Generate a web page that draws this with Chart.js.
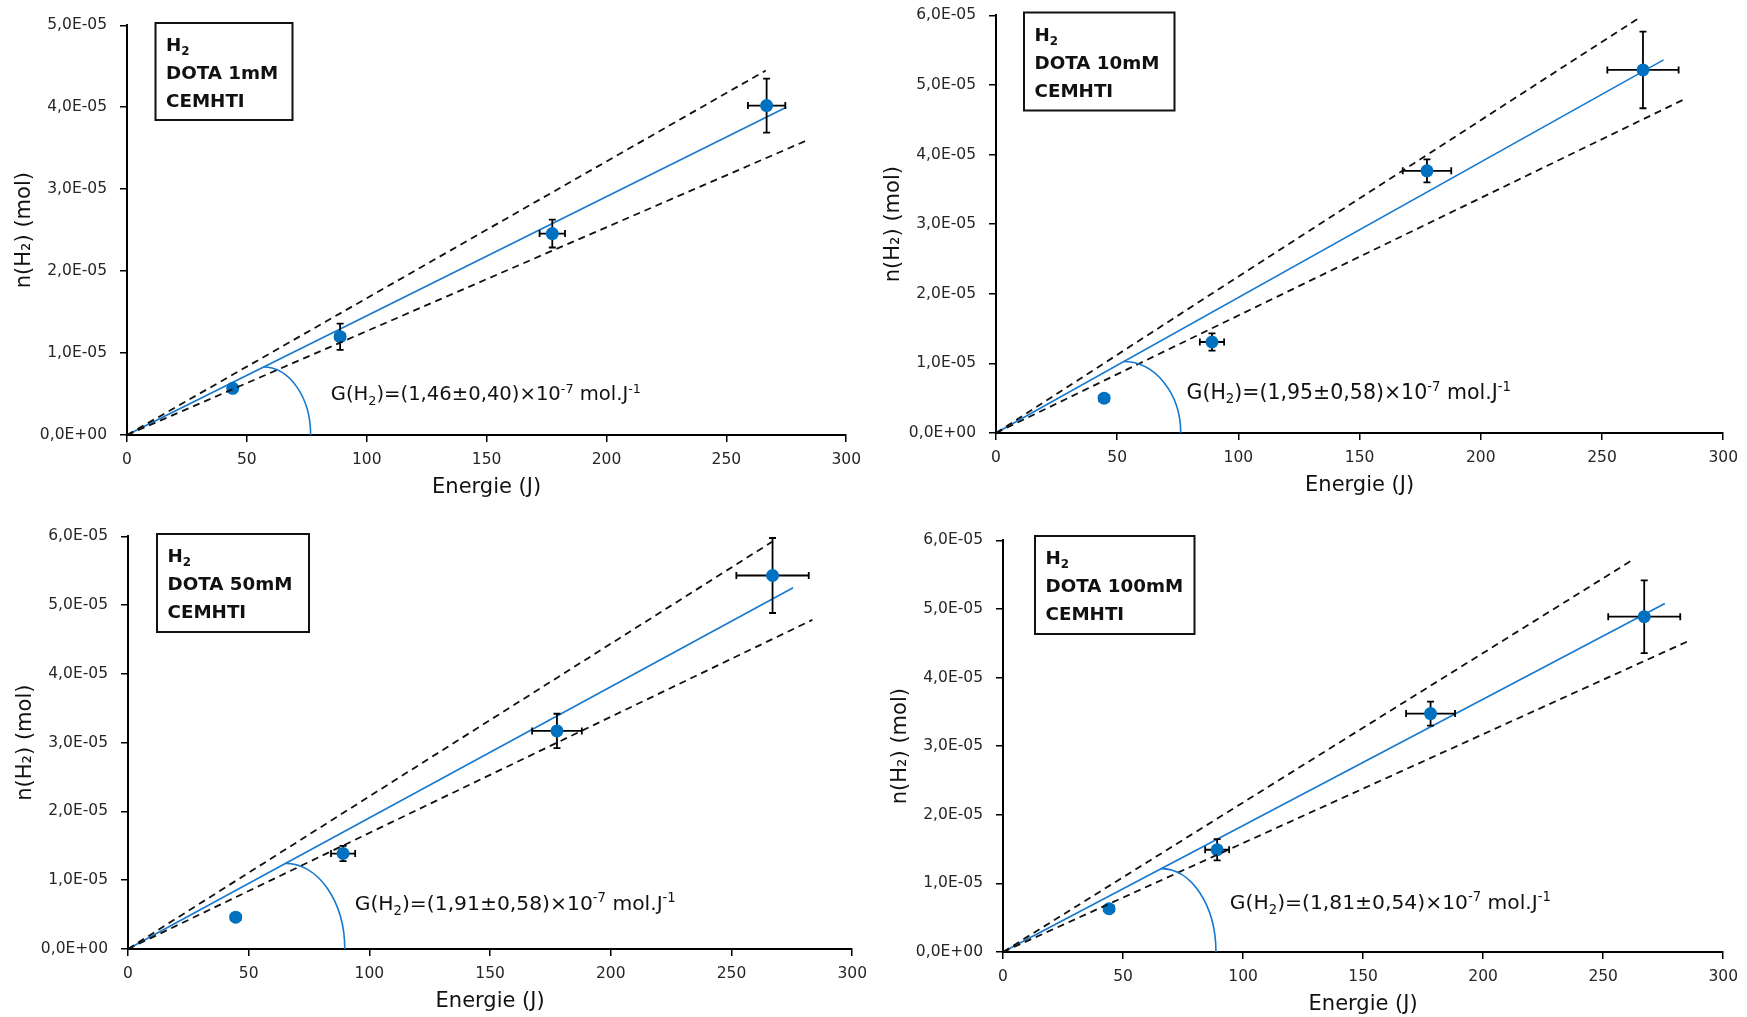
<!DOCTYPE html>
<html><head><meta charset="utf-8">
<script src="https://cdn.jsdelivr.net/npm/chart.js@4.4.1/dist/chart.umd.min.js"></script>
<style>
html,body{margin:0;padding:0;background:#fff;overflow:hidden;width:1747px;height:1017px;position:relative}
canvas{position:absolute}
</style></head><body>
<canvas id="c1"></canvas><canvas id="c2"></canvas><canvas id="c3"></canvas><canvas id="c4"></canvas>
<script>
// ---------- data ----------
const xTickValues = [0, 50, 100, 150, 200, 250, 300];
const xTickLabels = ['0', '50', '100', '150', '200', '250', '300'];
const yTickValues5 = [0, 1e-5, 2e-5, 3e-5, 4e-5, 5e-5];
const yTickLabels5 = ['0,0E+00', '1,0E-05', '2,0E-05', '3,0E-05', '4,0E-05', '5,0E-05'];
const yTickValues6 = [0, 1e-5, 2e-5, 3e-5, 4e-5, 5e-5, 6e-5];
const yTickLabels6 = ['0,0E+00', '1,0E-05', '2,0E-05', '3,0E-05', '4,0E-05', '5,0E-05', '6,0E-05'];

// Panel 1 : DOTA 1mM
const energy1 = [44.1, 88.9, 177.4, 266.8];
const nH2_1   = [5.7e-6, 1.20e-5, 2.458e-5, 4.02e-5];
const errX1   = [1.0, 2.0, 5.3, 7.8];
const errY1   = [0, 1.6e-6, 1.7e-6, 3.3e-6];
const fitLine1   = [[0, 0], [275.0, 4.00e-5]];
const upperLine1 = [[0, 0], [266.4, 4.447e-5]];
const lowerLine1 = [[0, 0], [283.8, 3.598e-5]];
const arc1 = [56.9, 8.3e-6, 76.6];
const gValue1 = '1,46±0,40';
const label1 = 'DOTA 1mM';

// Panel 2 : DOTA 10mM
const energy2 = [44.6, 89.1, 177.8, 266.9];
const nH2_2   = [5.0e-6, 1.307e-5, 3.766e-5, 5.215e-5];
const errX2   = [2.0, 5.0, 10.0, 14.7];
const errY2   = [0, 1.25e-6, 1.65e-6, 5.5e-6];
const fitLine2   = [[0, 0], [275.4, 5.36e-5]];
const upperLine2 = [[0, 0], [265.1, 5.957e-5]];
const lowerLine2 = [[0, 0], [283.9, 4.793e-5]];
const arc2 = [52.6, 1.026e-5, 76.2];
const gValue2 = '1,95±0,58';
const label2 = 'DOTA 10mM';

// Panel 3 : DOTA 50mM
const energy3 = [44.6, 89.1, 177.7, 267.0];
const nH2_3   = [4.63e-6, 1.388e-5, 3.17e-5, 5.43e-5];
const errX3   = [2.0, 5.0, 10.3, 15.0];
const errY3   = [0, 1.1e-6, 2.5e-6, 5.45e-6];
const fitLine3   = [[0, 0], [275.5, 5.252e-5]];
const upperLine3 = [[0, 0], [267.5, 5.936e-5]];
const lowerLine3 = [[0, 0], [283.5, 4.785e-5]];
const arc3 = [65.3, 1.245e-5, 89.8];
const gValue3 = '1,91±0,58';
const label3 = 'DOTA 50mM';

// Panel 4 : DOTA 100mM
const energy4 = [44.2, 89.2, 178.1, 267.1];
const nH2_4   = [6.3e-6, 1.49e-5, 3.475e-5, 4.887e-5];
const errX4   = [2.0, 5.0, 10.2, 15.0];
const errY4   = [0, 1.55e-6, 1.75e-6, 5.3e-6];
const fitLine4   = [[0, 0], [275.7, 5.08e-5]];
const upperLine4 = [[0, 0], [261.6, 5.70e-5]];
const lowerLine4 = [[0, 0], [285.0, 4.524e-5]];
const arc4 = [66.0, 1.215e-5, 88.7];
const gValue4 = '1,81±0,54';
const label4 = 'DOTA 100mM';

// annotation text anchors (data units)
const gAnchor1 = [85.0, 4.24e-6];
const gAnchor2 = [78.6, 4.94e-6];
const gAnchor3 = [93.9, 5.64e-6];
const gAnchor4 = [94.5, 6.24e-6];

// ---------- layout / style ----------
const FONT = '"DejaVu Sans", "Liberation Sans", sans-serif';
const BLUE_PT = '#0070C0';
const BLUE_LN = '#1679cf';
const Y_W = 120, X_H = 70, PAD_T = 20, PAD_R = 20;

const panels = [
  {id:'c1', area:{l:127,t:23,r:850,b:435}, yTicks:yTickValues5, yLabels:yTickLabels5,
   x:energy1, y:nH2_1, ex:errX1, ey:errY1, fit:fitLine1, up:upperLine1, lo:lowerLine1, arc:arc1,
   g:gValue1, gA:gAnchor1, gSize:19.6, label:label1, box:{x:155.5,y:23,w:137,h:97}},
  {id:'c2', area:{l:996,t:13,r:1727,b:433}, yTicks:yTickValues6, yLabels:yTickLabels6,
   x:energy2, y:nH2_2, ex:errX2, ey:errY2, fit:fitLine2, up:upperLine2, lo:lowerLine2, arc:arc2,
   g:gValue2, gA:gAnchor2, gSize:20.5, label:label2, box:{x:1024,y:12.5,w:150.5,h:98}},
  {id:'c3', area:{l:128,t:534,r:856,b:949}, yTicks:yTickValues6, yLabels:yTickLabels6,
   x:energy3, y:nH2_3, ex:errX3, ey:errY3, fit:fitLine3, up:upperLine3, lo:lowerLine3, arc:arc3,
   g:gValue3, gA:gAnchor3, gSize:20.3, label:label3, box:{x:157,y:534,w:152,h:98}},
  {id:'c4', area:{l:1003,t:538,r:1727,b:952}, yTicks:yTickValues6, yLabels:yTickLabels6,
   x:energy4, y:nH2_4, ex:errX4, ey:errY4, fit:fitLine4, up:upperLine4, lo:lowerLine4, arc:arc4,
   g:gValue4, gA:gAnchor4, gSize:20.3, label:label4, box:{x:1035,y:536,w:159.5,h:98}}
];

function drawRich(ctx, x, y, parts, size, weight, color) {
  ctx.fillStyle = color;
  ctx.textBaseline = 'alphabetic';
  ctx.textAlign = 'left';
  for (const p of parts) {
    const small = p.sub || p.sup;
    const s = small ? size * 0.65 : size;
    ctx.font = weight + ' ' + s + 'px ' + FONT;
    const dy = p.sub ? size * 0.22 : (p.sup ? -size * 0.38 : 0);
    ctx.fillText(p.t, x, y + dy);
    x += ctx.measureText(p.t).width;
  }
  return x;
}

function makePlugin(P, offX, offY) {
  return {
    id: 'overlay_' + P.id,
    beforeDatasetDraw(chart, args) {
      const ds = chart.data.datasets[args.index];
      if (ds.role !== 'points') return;
      const ctx = chart.ctx, xs = chart.scales.x, ys = chart.scales.y;
      ctx.save();
      ctx.strokeStyle = '#000';
      ctx.lineWidth = 1.8;
      const cap = 3.5;
      for (let i = 0; i < P.x.length; i++) {
        const px = xs.getPixelForValue(P.x[i]);
        const py = ys.getPixelForValue(P.y[i]);
        if (P.ey[i] > 0) {
          const y1 = ys.getPixelForValue(P.y[i] + P.ey[i]);
          const y2 = ys.getPixelForValue(P.y[i] - P.ey[i]);
          ctx.beginPath();
          ctx.moveTo(px, y1); ctx.lineTo(px, y2);
          ctx.moveTo(px - cap, y1); ctx.lineTo(px + cap, y1);
          ctx.moveTo(px - cap, y2); ctx.lineTo(px + cap, y2);
          ctx.stroke();
        }
        if (P.ex[i] > 0) {
          const x1 = xs.getPixelForValue(P.x[i] - P.ex[i]);
          const x2 = xs.getPixelForValue(P.x[i] + P.ex[i]);
          ctx.beginPath();
          ctx.moveTo(x1, py); ctx.lineTo(x2, py);
          ctx.moveTo(x1, py - cap); ctx.lineTo(x1, py + cap);
          ctx.moveTo(x2, py - cap); ctx.lineTo(x2, py + cap);
          ctx.stroke();
        }
      }
      ctx.restore();
    },
    afterDatasetsDraw(chart) {
      const ctx = chart.ctx, xs = chart.scales.x, ys = chart.scales.y;
      ctx.save();
      // arc (quarter ellipse) from fit line down to the x axis
      const cx = xs.getPixelForValue(P.arc[0]);
      const cy = ys.getPixelForValue(0);
      const rx = xs.getPixelForValue(P.arc[2]) - cx;
      const ry = cy - ys.getPixelForValue(P.arc[1]);
      ctx.beginPath();
      ctx.ellipse(cx, cy, rx, ry, 0, -Math.PI / 2, 0);
      ctx.strokeStyle = BLUE_LN;
      ctx.lineWidth = 1.6;
      ctx.stroke();
      // G annotation
      const gx = xs.getPixelForValue(P.gA[0]);
      const gy = ys.getPixelForValue(P.gA[1]);
      drawRich(ctx, gx, gy, [
        {t:'G(H'}, {t:'2', sub:true}, {t:')=(' + P.g + ')×10'}, {t:'-7', sup:true},
        {t:' mol.J'}, {t:'-1', sup:true}
      ], P.gSize, 'normal', '#111');
      // label box
      const b = P.box;
      const bx = b.x - offX, by = b.y - offY;
      ctx.fillStyle = '#fff';
      ctx.fillRect(bx, by, b.w, b.h);
      ctx.strokeStyle = '#111';
      ctx.lineWidth = 2;
      ctx.strokeRect(bx, by, b.w, b.h);
      const tx = bx + 10.5;
      drawRich(ctx, tx, by + 28, [{t:'H'}, {t:'2', sub:true}], 18.3, 'bold', '#111');
      drawRich(ctx, tx, by + 56, [{t:P.label}], 18.3, 'bold', '#111');
      drawRich(ctx, tx, by + 84, [{t:'CEMHTI'}], 18.3, 'bold', '#111');
      ctx.restore();
    }
  };
}

function seg(arr) { return arr.map(p => ({x: p[0], y: p[1]})); }

for (const P of panels) {
  const cv = document.getElementById(P.id);
  const left = P.area.l - Y_W, top = P.area.t - PAD_T;
  const w = P.area.r - left + PAD_R, h = P.area.b + X_H - top;
  cv.width = w; cv.height = h;
  cv.style.width = w + 'px'; cv.style.height = h + 'px';
  cv.style.left = left + 'px'; cv.style.top = top + 'px';
  const pts = P.x.map((v, i) => ({x: v, y: P.y[i]}));
  const yMax = P.yTicks[P.yTicks.length - 1];
  new Chart(cv, {
    type: 'scatter',
    data: {
      datasets: [
        {role:'fit', data: seg(P.fit), showLine:true, borderColor: BLUE_LN, borderWidth:1.6,
         pointRadius:0, fill:false, order:3},
        {role:'points', data: pts, pointRadius:6.5, pointHoverRadius:6.5, backgroundColor: BLUE_PT,
         borderWidth:0, showLine:false, order:2},
        {role:'upper', data: seg(P.up), showLine:true, borderColor:'#111', borderWidth:1.8,
         borderDash:[7,5], pointRadius:0, fill:false, order:1},
        {role:'lower', data: seg(P.lo), showLine:true, borderColor:'#111', borderWidth:1.8,
         borderDash:[7,5], pointRadius:0, fill:false, order:1}
      ]
    },
    options: {
      responsive: false, animation: false, devicePixelRatio: 1,
      layout: {padding: {top: PAD_T, right: PAD_R, left: 0, bottom: 0}},
      plugins: {legend: {display:false}, tooltip: {enabled:false}},
      scales: {
        x: {
          type:'linear', min:0, max:300,
          afterBuildTicks: s => { s.ticks = xTickValues.map(v => ({value: v})); },
          afterFit: s => { s.height = X_H; },
          grid: {display:true, drawOnChartArea:false, drawTicks:true, tickLength:7, color:'#000', lineWidth:1.5},
          border: {display:true, color:'#000', width:2},
          ticks: {callback: (v, i) => xTickLabels[i], font:{family:FONT, size:15.5}, color:'#262626',
                  padding:9, maxRotation:0, autoSkip:false},
          title: {display:true, text:'Energie (J)', font:{family:FONT, size:21}, color:'#111',
                  padding:{top:0, bottom:5}}
        },
        y: {
          type:'linear', min:0, max:yMax,
          afterBuildTicks: s => { s.ticks = P.yTicks.map(v => ({value: v})); },
          afterFit: s => { s.width = Y_W; },
          grid: {display:true, drawOnChartArea:false, drawTicks:true, tickLength:7, color:'#000', lineWidth:1.5},
          border: {display:true, color:'#000', width:2},
          ticks: {callback: (v, i) => P.yLabels[i], font:{family:FONT, size:15.5}, color:'#262626',
                  padding:13, autoSkip:false},
          title: {display:true, text:'n(H₂) (mol)', font:{family:FONT, size:21}, color:'#111',
                  padding:{top:5, bottom:0}}
        }
      }
    },
    plugins: [makePlugin(P, left, top)]
  });
}
</script>
</body></html>
